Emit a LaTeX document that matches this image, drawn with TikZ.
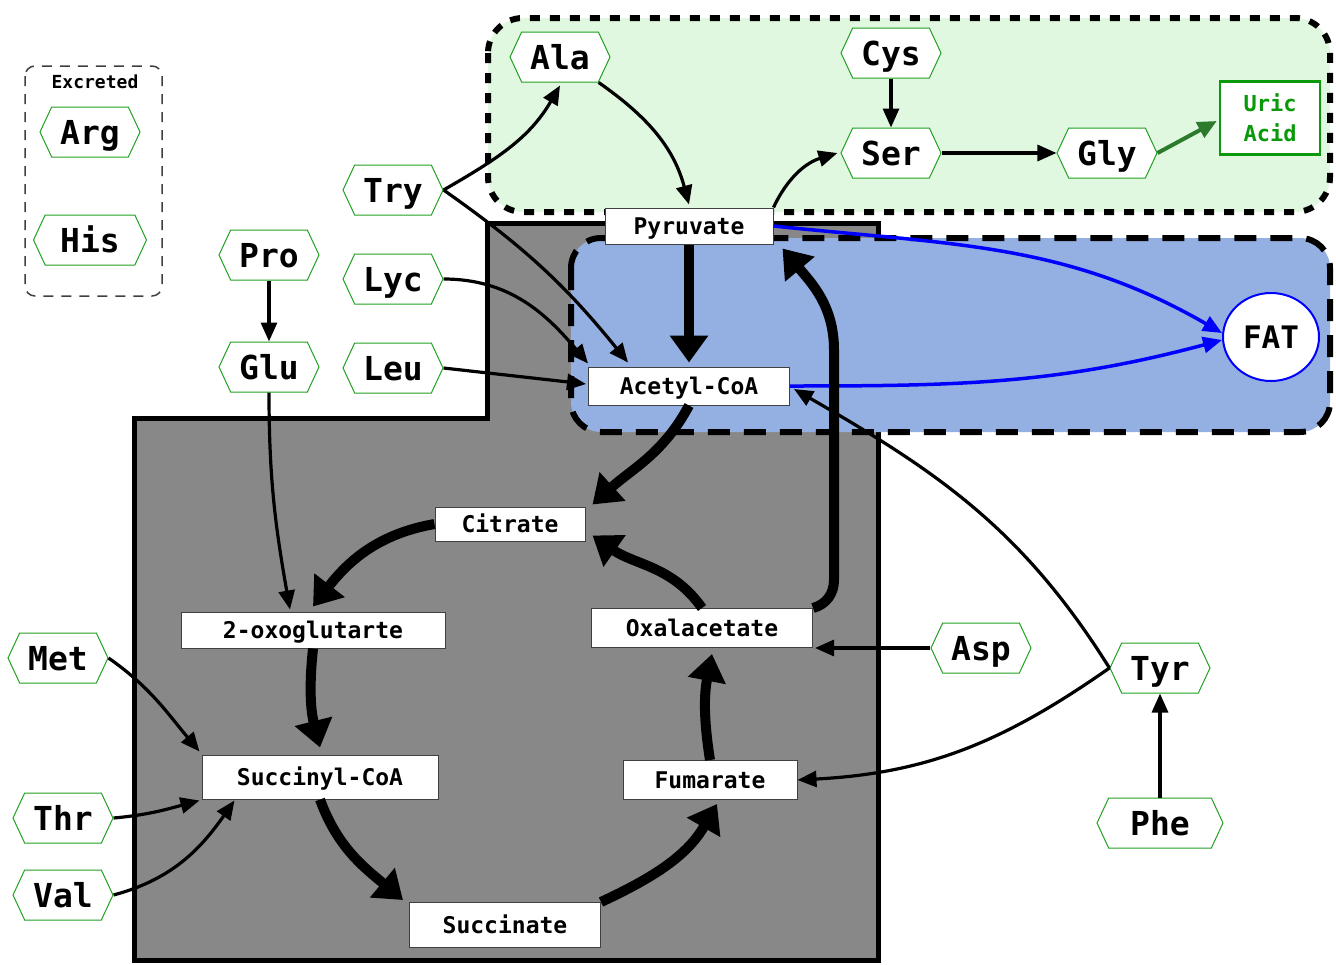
\documentclass[tikz,border=0pt]{standalone}
\usepackage{fontspec}
\setmonofont{DejaVu Sans Mono}
\usepackage{tikz}
\usetikzlibrary{arrows.meta,shapes.symbols,shapes.geometric}
\definecolor{hexg}{HTML}{22A022}
\definecolor{uricg}{HTML}{0A990A}
\definecolor{darkg}{HTML}{2C7A2C}
\definecolor{leafbg}{HTML}{E0F7E0}
\definecolor{fatbg}{HTML}{94AFE1}
\definecolor{tcabg}{HTML}{888888}
\definecolor{fatblue}{HTML}{0000FF}
\tikzset{
  aa/.style={signal,signal to=east and west,signal pointer angle=130,draw=hexg,fill=white,line width=1pt,
    minimum width=100pt,minimum height=50pt,inner sep=1pt,text height=24pt,text depth=0pt,
    font=\ttfamily\bfseries\fontsize{33}{36}\selectfont},
  met/.style={rectangle,draw=black!75,fill=white,line width=1pt,inner sep=1pt,text height=17pt,text depth=0pt,
    font=\ttfamily\bfseries\fontsize{23}{26}\selectfont},
  ar/.style={-{Triangle[length=19pt,width=16pt]},line width=3.2pt},
  big/.style={-{Triangle[length=27pt,width=37pt]},line width=10pt},
  fa/.style={-{Triangle[length=19pt,width=16pt]},line width=3.5pt,fatblue},
  zone/.style={line width=6pt}
}
\begin{document}
\begin{tikzpicture}[x=1pt,y=1pt]
\useasboundingbox (0,0) rectangle (1336,-964);
% compartments
\draw[line width=5pt,fill=tcabg] (134,-418) -- (487,-418) -- (487,-223) -- (878,-223) -- (878,-960) -- (134,-960) -- cycle;
\draw[zone,fill=fatbg,dash pattern=on 22pt off 14pt,rounded corners=30pt] (571,-238) rectangle (1330,-432);
\draw[zone,fill=leafbg,dash pattern=on 10pt off 10pt,rounded corners=35pt] (488,-18) rectangle (1330,-212);
\draw[line width=1.5pt,black!75,dash pattern=on 10pt off 8pt,rounded corners=10pt] (25,-66) rectangle (162,-296);
\node[font=\ttfamily\bfseries\fontsize{18}{20}\selectfont] (exc) at (95,-82) {Excreted};

% amino acids
\node[aa] (arg) at (90,-132) {Arg};
\node[aa,minimum width=113pt] (his) at (90,-240) {His};
\node[aa] (ala) at (560,-57) {Ala};
\node[aa] (cys) at (891,-53) {Cys};
\node[aa] (ser) at (891,-153) {Ser};
\node[aa] (gly) at (1107,-153) {Gly};
\node[aa] (try) at (393,-190) {Try};
\node[aa] (pro) at (269,-255) {Pro};
\node[aa] (lyc) at (393,-279) {Lyc};
\node[aa] (glu) at (269,-367) {Glu};
\node[aa] (leu) at (393,-368) {Leu};
\node[aa] (met) at (58,-658) {Met};
\node[aa] (thr) at (63,-818) {Thr};
\node[aa] (val) at (63,-895) {Val};
\node[aa] (asp) at (981,-648) {Asp};
\node[aa] (tyr) at (1160,-668) {Tyr};
\node[aa,minimum width=126pt] (phe) at (1160,-823) {Phe};
\node[draw=uricg,line width=2.5pt,fill=white,text=uricg,align=center,minimum width=100pt,minimum height=73pt,
  font=\ttfamily\bfseries\fontsize{22}{30}\selectfont] (uric) at (1270,-118) {Uric\\Acid};
\node[ellipse,draw=fatblue,line width=2pt,fill=white,minimum width=96pt,minimum height=88pt,text height=22pt,text depth=0pt,
  font=\ttfamily\bfseries\fontsize{31}{34}\selectfont] (fat) at (1271,-337) {FAT};

% metabolites
\node[met,minimum width=168pt,minimum height=36pt] (pyr) at (689,-226) {Pyruvate};
\node[met,minimum width=201pt,minimum height=38pt] (acc) at (689,-386) {Acetyl-CoA};
\node[met,minimum width=150pt,minimum height=34pt] (cit) at (510,-524) {Citrate};
\node[met,minimum width=264pt,minimum height=36pt] (oxo) at (313,-630) {2-oxoglutarte};
\node[met,minimum width=221pt,minimum height=39pt] (oxa) at (702,-628) {Oxalacetate};
\node[met,minimum width=236pt,minimum height=44pt] (suc) at (320,-777) {Succinyl-CoA};
\node[met,minimum width=174pt,minimum height=39pt] (fum) at (710,-780) {Fumarate};
\node[met,minimum width=191pt,minimum height=45pt] (sca) at (505,-925) {Succinate};

% thin arrows
\draw[ar] (try.east) to[out=30,in=-120] ([yshift=-3pt]ala.south);
\draw[ar] (try.east) to[bend left=8] ([xshift=-61pt,yshift=4pt]acc.north);
\draw[ar] (ala.south east) to[out=-35,in=105] ([yshift=3pt]pyr.north);
\draw[ar] (pyr.north east) to[out=65,in=197] ([xshift=-3pt]ser.west);
\draw[ar] (cys.south) -- (ser.north);
\draw[ar] (ser.east) -- (gly.west);
\draw[-{Triangle[length=19pt,width=17pt]},line width=4pt,darkg] (gly.east) -- ([xshift=-2pt,yshift=-3pt]uric.west);
\draw[ar] (lyc.east) to[out=0,in=130] ([yshift=3pt]acc.north west);
\draw[ar] (leu.east) -- ([xshift=-2pt,yshift=2pt]acc.west);
\draw[ar] (tyr.west) to[out=122,in=-30] ([xshift=4pt,yshift=-3pt]acc.east);
\draw[ar] (tyr.west) to[out=-145,in=3] (fum.east);
\draw[ar] (phe.north) -- (tyr.south);
\draw[ar] (asp.west) -- ([xshift=2pt]oxa.east |- asp.west);
\draw[ar] (pro.south) -- (glu.north);
\draw[ar] (glu.south) to[out=-90,in=100] ([xshift=-23pt,yshift=2pt]oxo.north);
\draw[ar] (met.east) to[out=-35,in=130] ([xshift=-2pt,yshift=3pt]suc.north west);
\draw[ar] (thr.east) to[out=5,in=195] ([xshift=-2pt,yshift=-1pt]suc.south west);
\draw[ar] (val.east) to[out=15,in=-125] ([xshift=33pt,yshift=-1pt]suc.south west);

% fat
\draw[fa] (pyr.east) to[out=-6,in=150] ([yshift=4pt]fat.west);
\draw[fa] (acc.east) to[out=0,in=195] ([yshift=-3pt]fat.west);

% cycle
\draw[big] (pyr.south) -- ([yshift=4pt]acc.north);
\draw[big] (acc.south) to[out=-118,in=42] ([xshift=7pt,yshift=2pt]cit.north east);
\draw[big] (cit.west) to[out=190,in=52] ([yshift=5pt]oxo.north);
\draw[big] (oxo.south) to[bend right=10] ([yshift=7pt]suc.north);
\draw[big] (suc.south) to[out=-70,in=140] ([xshift=-6pt,yshift=2pt]sca.north west);
\draw[big] (sca.north east) to[out=25,in=-120] ([xshift=7pt,yshift=-4pt]fum.north |- fum.south);
\draw[big] (fum.north) to[bend left=10] ([xshift=10pt,yshift=-6pt]oxa.south);
\draw[big] (oxa.north) to[out=125,in=-35] ([xshift=7pt,yshift=6pt]cit.south east);
\draw[big] (oxa.north east) to[out=15,in=-90] ++(21,28) -- ++(0,230) to[out=90,in=-50] ([xshift=9pt,yshift=-4pt]pyr.south east);
\end{tikzpicture}
\end{document}
